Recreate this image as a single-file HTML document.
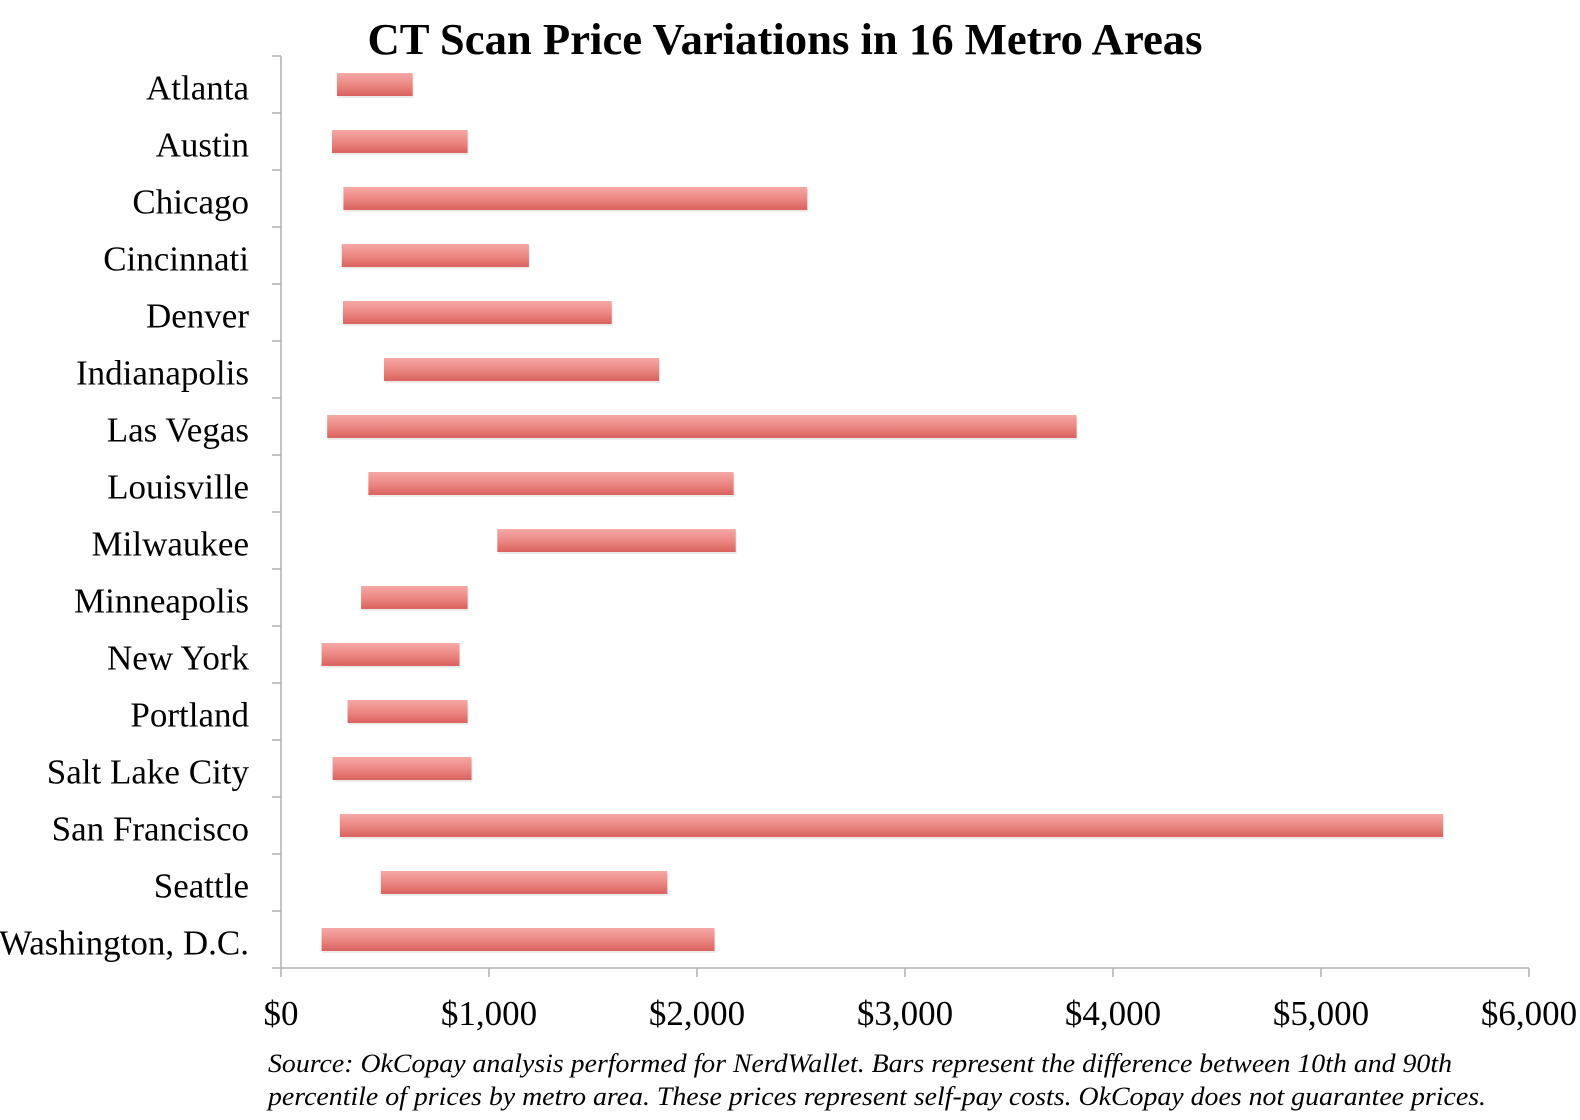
<!DOCTYPE html>
<html><head><meta charset="utf-8"><style>
html,body{margin:0;padding:0;background:#fff;width:1580px;height:1120px;overflow:hidden}
text{font-family:"Liberation Serif",serif;fill:#000}
</style></head><body>
<svg id="chart" width="1580" height="1120" xmlns="http://www.w3.org/2000/svg">
<defs>
<linearGradient id="bg" x1="0" y1="0" x2="0" y2="1">
<stop offset="0" stop-color="#f5a9a6"/><stop offset="0.5" stop-color="#ec8884"/><stop offset="1" stop-color="#d9625d"/>
</linearGradient>
</defs>
<text x="785" y="54" text-anchor="middle" font-size="44" font-weight="bold" textLength="835" lengthAdjust="spacingAndGlyphs">CT Scan Price Variations in 16 Metro Areas</text>
<g id="plot"></g>
<text x="268" y="1072" font-size="26" font-style="italic" textLength="1184" lengthAdjust="spacingAndGlyphs">Source: OkCopay analysis performed for NerdWallet. Bars represent the difference between 10th and 90th</text>
<text x="268" y="1105" font-size="26" font-style="italic" textLength="1218" lengthAdjust="spacingAndGlyphs">percentile of prices by metro area. These prices represent self-pay costs. OkCopay does not guarantee prices.</text>
</svg>
<script>
const categories=["Atlanta","Austin","Chicago","Cincinnati","Denver","Indianapolis","Las Vegas","Louisville","Milwaukee","Minneapolis","New York","Portland","Salt Lake City","San Francisco","Seattle","Washington, D.C."];
const lowValues=[269,245,300,292,298,495,222,420,1040,385,195,320,248,283,480,195];
const highValues=[633,897,2530,1192,1590,1818,3825,2176,2186,897,858,897,916,5587,1857,2084];
const xTicks=[0,1000,2000,3000,4000,5000,6000];
const xTickLabels=["$0","$1,000","$2,000","$3,000","$4,000","$5,000","$6,000"];

const X0=281,X1=1529,XMAX=6000,Y0=56,ROW=57,BH=23;
const xs=v=>X0+(v/XMAX)*(X1-X0);
const yRow=i=>Y0+ROW*i;
const NS="http://www.w3.org/2000/svg";
const g=document.getElementById('plot');
function mk(t,a){const e=document.createElementNS(NS,t);for(const k in a)e.setAttribute(k,a[k]);g.appendChild(e);return e;}
const YB=yRow(categories.length);
let ax=mk('line',{x1:X0,y1:Y0,x2:X0,y2:YB,stroke:'#b0b0b0','stroke-width':1.5});


let axx=mk('line',{x1:X0,y1:YB,x2:X1,y2:YB,stroke:'#b0b0b0','stroke-width':1.5});


for(let i=0;i<=categories.length;i++){
  const t=mk('line',{x1:X0-9,y1:yRow(i),x2:X0,y2:yRow(i),stroke:'#b0b0b0','stroke-width':1.5});
  
  
}
xTicks.forEach((v,i)=>{
  const t=mk('line',{x1:xs(v),y1:YB,x2:xs(v),y2:YB+9,stroke:'#b0b0b0','stroke-width':1.5});
  
  
  const l=mk('text',{x:xs(v),y:1025,'text-anchor':'middle','font-size':35});
  l.textContent=xTickLabels[i];
  
  
});
categories.forEach((c,i)=>{
  const cy=yRow(i)+ROW/2;
  const l=mk('text',{x:249,y:cy+15,'text-anchor':'end','font-size':35});
  l.textContent=c;
  
  
  const s=mk('rect',{x:xs(lowValues[i])+1,y:cy-BH/2+2,width:xs(highValues[i])-xs(lowValues[i]),height:BH,fill:'#000',opacity:0.08});
  
  
  const b=mk('rect',{x:xs(lowValues[i]),y:cy-BH/2,width:xs(highValues[i])-xs(lowValues[i]),height:BH,fill:'url(#bg)'});
  
  
});
</script>
</body></html>
